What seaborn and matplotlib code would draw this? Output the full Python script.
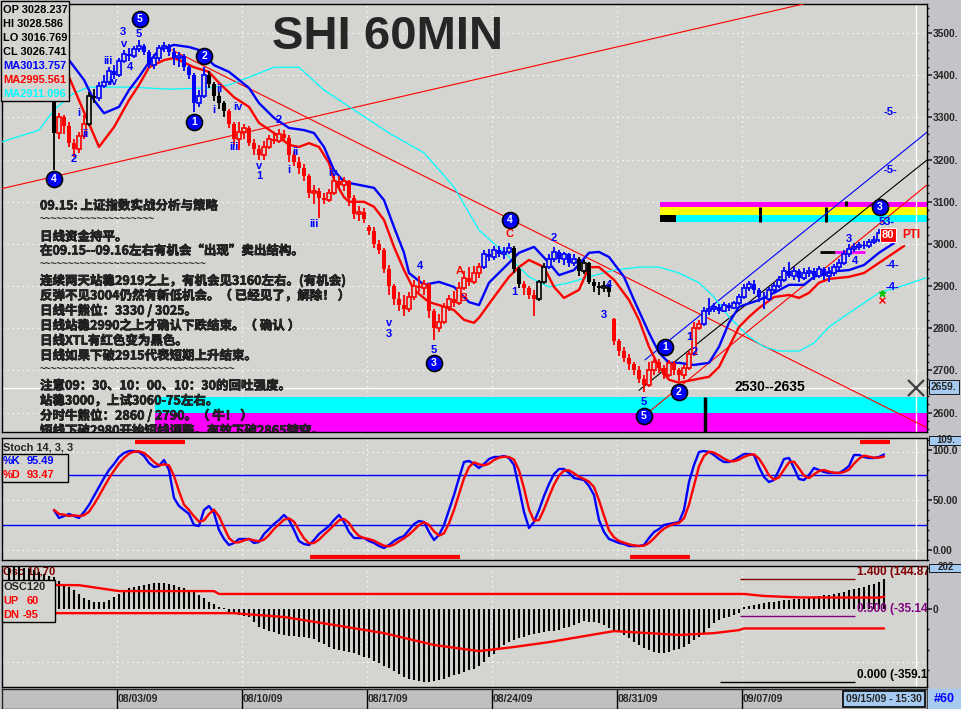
"""
SHI 60MIN chart: candles, MA envelope, wave marks, Stoch and OSC panels.
"""

import matplotlib
matplotlib.use('Agg')
import matplotlib.pyplot as plt
import matplotlib.patheffects as pe
from matplotlib.patches import Rectangle
import numpy as np
import pandas as pd
import seaborn as sns

W, H = 961, 709
BG = '#d4d4d0'
STRIP = '#c4c4c8'
LBLUE = '#a6caf0'
BLUE, RED, CYAN, MAGENTA, YELLOW = '#0000ff', '#ff0000', '#00ffff', '#ff00ff', '#ffff00'
DARKRED, PURPLE = '#800000', '#800080'
LAT = ['Liberation Sans', 'DejaVu Sans']
CJK = ['Noto Sans CJK SC', 'DejaVu Sans']

# ---- 60 min bars (one per hour, oldest first) ----
opens = [3340, 3262, 3300, 3280, 3240, 3225, 3255, 3285, 3350, 3345,
         3375, 3385, 3410, 3400, 3435, 3450, 3445, 3462, 3470, 3455,
         3425, 3440, 3465, 3470, 3455, 3440, 3445, 3420, 3400, 3335,
         3350, 3400, 3380, 3350, 3335, 3315, 3285, 3250, 3265, 3275,
         3240, 3225, 3210, 3230, 3250, 3245, 3260, 3252, 3210, 3195,
         3180, 3160, 3120, 3125, 3110, 3105, 3120, 3150, 3140, 3150,
         3110, 3070, 3075, 3040, 3030, 3000, 2985, 2940, 2900, 2870,
         2855, 2845, 2875, 2900, 2895, 2905, 2840, 2800, 2815, 2850,
         2870, 2860, 2895, 2920, 2910, 2930, 2945, 2975, 2968, 2985,
         2975, 2982, 2990, 2940, 2905, 2895, 2880, 2870, 2910, 2945,
         2965, 2980, 2965, 2975, 2955, 2965, 2935, 2955, 2910, 2900,
         2895, 2900, 2822, 2770, 2745, 2730, 2715, 2700, 2680, 2665,
         2700, 2720, 2705, 2690, 2718, 2700, 2690, 2705, 2740, 2800,
         2810, 2840, 2845, 2850, 2842, 2855, 2848, 2860, 2875, 2895,
         2905, 2890, 2875, 2870, 2890, 2900, 2915, 2935, 2925, 2935,
         2920, 2930, 2935, 2925, 2940, 2925, 2932, 2945, 2955, 2975,
         2988, 2992, 2998, 2995, 3005, 3010, 3028.237]
highs = [3342, 3310, 3305, 3290, 3250, 3265, 3305, 3360, 3368, 3385,
         3400, 3420, 3425, 3442, 3460, 3465, 3470, 3484, 3475, 3460,
         3450, 3472, 3478, 3474, 3465, 3455, 3450, 3425, 3405, 3365,
         3420, 3410, 3385, 3360, 3340, 3320, 3290, 3290, 3285, 3280,
         3250, 3235, 3245, 3258, 3265, 3272, 3270, 3258, 3220, 3205,
         3190, 3165, 3140, 3132, 3120, 3130, 3160, 3162, 3158, 3152,
         3115, 3090, 3085, 3045, 3040, 3010, 2990, 2950, 2905, 2885,
         2880, 2885, 2915, 2925, 2915, 2908, 2845, 2835, 2860, 2880,
         2888, 2910, 2935, 2945, 2948, 2955, 2985, 2988, 2995, 2995,
         2992, 3002, 2995, 2945, 2912, 2900, 2890, 2915, 2955, 2975,
         2992, 2985, 2982, 2978, 2975, 2968, 2962, 2958, 2918, 2910,
         2912, 2905, 2825, 2775, 2755, 2740, 2720, 2710, 2690, 2720,
         2728, 2728, 2712, 2725, 2722, 2705, 2712, 2745, 2815, 2820,
         2850, 2872, 2860, 2858, 2862, 2860, 2865, 2882, 2905, 2912,
         2915, 2895, 2885, 2898, 2908, 2925, 2945, 2958, 2945, 2940,
         2942, 2945, 2942, 2948, 2945, 2945, 2952, 2965, 2985, 3000,
         3002, 3005, 3008, 3012, 3018, 3035, 3028.586]
lows = [3175, 3250, 3260, 3230, 3205, 3215, 3250, 3280, 3335, 3340,
        3370, 3378, 3390, 3395, 3428, 3435, 3440, 3455, 3448, 3418,
        3415, 3435, 3455, 3445, 3425, 3420, 3410, 3390, 3312, 3325,
        3345, 3370, 3340, 3320, 3300, 3275, 3235, 3222, 3250, 3232,
        3210, 3200, 3200, 3225, 3238, 3240, 3245, 3195, 3185, 3165,
        3150, 3110, 3095, 3062, 3095, 3100, 3115, 3130, 3125, 3090,
        3060, 3055, 3050, 3020, 2990, 2975, 2930, 2880, 2855, 2840,
        2828, 2838, 2868, 2885, 2880, 2825, 2772, 2790, 2810, 2840,
        2850, 2855, 2890, 2900, 2905, 2920, 2940, 2960, 2962, 2968,
        2965, 2975, 2930, 2895, 2880, 2870, 2828, 2865, 2905, 2940,
        2958, 2955, 2950, 2945, 2948, 2925, 2928, 2905, 2885, 2880,
        2885, 2875, 2760, 2735, 2720, 2700, 2690, 2670, 2648, 2660,
        2690, 2695, 2680, 2685, 2690, 2675, 2680, 2700, 2735, 2795,
        2805, 2832, 2838, 2835, 2838, 2840, 2845, 2855, 2870, 2888,
        2882, 2862, 2845, 2865, 2885, 2895, 2910, 2920, 2915, 2910,
        2915, 2922, 2915, 2920, 2915, 2910, 2925, 2935, 2950, 2970,
        2980, 2985, 2988, 2990, 3000, 3005, 3016.769]
closes = [3262, 3300, 3280, 3240, 3225, 3255, 3285, 3350, 3345, 3375,
          3385, 3410, 3400, 3435, 3450, 3445, 3462, 3470, 3455, 3425,
          3440, 3465, 3470, 3455, 3440, 3445, 3420, 3400, 3335, 3350,
          3400, 3380, 3350, 3335, 3315, 3285, 3250, 3265, 3275, 3240,
          3225, 3210, 3230, 3250, 3245, 3260, 3252, 3210, 3195, 3180,
          3160, 3120, 3125, 3110, 3105, 3120, 3150, 3140, 3150, 3110,
          3070, 3075, 3060, 3030, 3000, 2985, 2940, 2900, 2870, 2855,
          2845, 2875, 2900, 2895, 2905, 2840, 2800, 2815, 2850, 2870,
          2860, 2895, 2920, 2910, 2930, 2945, 2975, 2968, 2985, 2975,
          2982, 2990, 2940, 2905, 2895, 2880, 2870, 2910, 2945, 2965,
          2980, 2965, 2975, 2955, 2965, 2935, 2955, 2910, 2900, 2895,
          2900, 2885, 2770, 2745, 2730, 2715, 2700, 2680, 2665, 2700,
          2720, 2705, 2690, 2718, 2700, 2690, 2705, 2740, 2800, 2810,
          2840, 2845, 2850, 2842, 2855, 2848, 2860, 2875, 2895, 2905,
          2890, 2875, 2870, 2890, 2900, 2915, 2935, 2925, 2935, 2920,
          2930, 2935, 2925, 2940, 2925, 2932, 2945, 2955, 2975, 2988,
          2992, 2998, 2995, 3005, 3010, 3025, 3026.741]
# bar colouring (trend state), as runs of (code, number of bars)
trend_runs = [('k', 1), ('r', 6), ('k', 2), ('b', 22), ('k', 4), ('r', 51), ('b', 6),
              ('k', 2), ('r', 3), ('k', 2), ('b', 6), ('k', 7), ('r', 18), ('b', 37)]

# ---- moving averages (bar, value) ----
ma_blue_bar = [3, 6, 8, 10, 13, 15, 17, 19, 21, 24, 27, 29, 32, 35, 37, 39, 41, 44, 47, 50,
               52, 54, 56, 58, 61, 64, 66, 68, 70, 71, 74, 77, 80, 83, 85, 87, 91, 93, 96, 99,
               101, 104, 107, 109, 111, 114, 116, 119, 121, 123, 125, 128, 131, 133, 135, 137,
               141, 144, 147, 150, 152, 155, 159, 162, 165, 168]
ma_blue = [3436, 3389, 3341, 3310, 3325, 3365, 3396, 3431, 3460, 3472, 3467, 3460, 3424, 3408,
           3389, 3370, 3334, 3299, 3275, 3270, 3263, 3230, 3175, 3147, 3140, 3133, 3104, 3040,
           2979, 2931, 2903, 2910, 2898, 2862, 2855, 2908, 2955, 2979, 2993, 2955, 2926, 2938,
           2979, 2981, 2969, 2922, 2867, 2789, 2742, 2718, 2718, 2713, 2718, 2756, 2813, 2851,
           2867, 2884, 2903, 2903, 2922, 2934, 2938, 2950, 2979, 3002]
ma_red_bar = [3, 9, 12, 15, 17, 19, 22, 24, 25, 28, 31, 33, 36, 39, 41, 44, 47, 49, 51, 53,
              55, 56, 58, 59, 62, 64, 66, 68, 70, 72, 75, 77, 80, 82, 84, 85, 88, 91, 93, 95,
              98, 100, 102, 105, 107, 109, 112, 115, 117, 119, 121, 123, 125, 128, 131, 133,
              135, 137, 139, 141, 144, 147, 149, 151, 153, 155, 159, 162, 165, 170]
ma_red = [3396, 3230, 3277, 3341, 3377, 3419, 3436, 3441, 3436, 3419, 3408, 3382, 3348, 3325,
          3287, 3263, 3235, 3230, 3239, 3230, 3192, 3152, 3111, 3100, 3100, 3088, 3057, 2993,
          2938, 2891, 2862, 2855, 2843, 2820, 2813, 2825, 2874, 2922, 2945, 2962, 2945, 2898,
          2872, 2891, 2945, 2945, 2915, 2867, 2820, 2756, 2708, 2678, 2671, 2678, 2685, 2708,
          2756, 2803, 2827, 2848, 2874, 2879, 2872, 2884, 2908, 2917, 2922, 2931, 2955, 2995]
ma_cyan_bar = [-11, -3, 0, 4, 7, 15, 23, 31, 35, 40, 44, 49, 54, 61, 67, 74, 80, 85, 91, 95,
               99, 103, 107, 112, 117, 121, 125, 129, 132, 135, 139, 142, 145, 149, 152, 155,
               159, 162, 165, 169, 175]
ma_cyan = [3240, 3270, 3318, 3358, 3372, 3372, 3367, 3370, 3377, 3400, 3419, 3419, 3365, 3310,
           3263, 3216, 3135, 3033, 2969, 2922, 2898, 2908, 2922, 2938, 2945, 2945, 2931, 2908,
           2874, 2827, 2780, 2756, 2746, 2746, 2765, 2803, 2836, 2860, 2884, 2898, 2922]

# ---- Stoch %K per bar ----
stoch_k = [40, 32, 34, 36, 34, 32, 38, 45, 54, 63,
           72, 80, 86, 93, 97, 99, 99, 98, 94, 87,
           83, 84, 90, 80, 52, 44, 40, 36, 25, 24,
           40, 44, 37, 20, 11, 5, 7, 11, 11, 11,
           7, 8, 16, 21, 26, 30, 35, 30, 20, 9,
           6, 5, 10, 16, 20, 24, 30, 35, 28, 18,
           12, 12, 12, 9, 7, 4, 2, 5, 9, 12,
           14, 20, 26, 29, 28, 18, 10, 15, 25, 40,
           55, 72, 88, 89, 86, 82, 86, 91, 93, 93,
           94, 92, 85, 62, 38, 22, 28, 40, 54, 66,
           76, 81, 81, 77, 72, 71, 70, 64, 55, 30,
           18, 11, 9, 7, 6, 4, 4, 4, 5, 12,
           18, 21, 25, 26, 27, 28, 40, 68, 85, 98,
           99, 98, 95, 91, 88, 88, 90, 93, 96, 96,
           95, 83, 73, 68, 70, 80, 91, 92, 82, 71,
           70, 75, 82, 80, 78, 77, 77, 77, 80, 84,
           95, 95, 93, 92, 92, 93, 95.49]

# ---- OSC 10,70 histogram (starts 9 bars before the first candle) ----
OSC_FIRST_BAR = -9
osc_vals = [200, 205, 205, 200, 195, 190, 182, 172, 163, 155,
            137, 118, 108, 93, 74, 54, 44, 34, 34, 34,
            44, 59, 74, 88, 103, 108, 113, 118, 123, 127,
            127, 127, 125, 118, 108, 103, 93, 83, 69, 54,
            34, 25, 10, 5, -15, -25, -29, -34, -39, -64,
            -88, -98, -108, -113, -122, -127, -130, -132, -137, -137,
            -140, -147, -162, -173, -186, -194, -201, -206, -209, -217,
            -225, -233, -242, -255, -266, -278, -289, -305, -318, -333,
            -341, -349, -354, -357, -359.17, -354, -349, -341, -333, -325,
            -317, -309, -300, -292, -280, -260, -235, -218, -191, -176,
            -162, -154, -142, -137, -127, -122, -118, -113, -110, -106,
            -103, -95, -88, -77, -66, -59, -62, -62, -69, -78,
            -91, -103, -113, -127, -142, -162, -176, -189, -201, -211,
            -217, -217, -211, -201, -194, -186, -172, -154, -137, -118,
            -94, -69, -54, -44, -37, -29, -20, 12, 17, 21,
            25, 29, 33, 36, 39, 43, 46, 47, 48, 51,
            55, 59, 63, 67, 71, 75, 80, 85, 91, 97,
            103, 110, 117, 124, 132, 144.872]
osc_up_bar = [0, 5, 13, 32, 33, 138, 142, 149, 165, 166]
osc_up = [118, 117, 88, 88, 74, 74, 64, 57, 56, 60]
osc_dn_bar = [0, 36, 46, 56, 66, 76, 85, 92, 99, 105, 112, 119, 125, 132, 137, 138, 166]
osc_dn = [-20, -20, -39, -78, -118, -176, -206, -186, -162, -137, -108, -118, -127, -118,
          -103, -95, -95]
osc_levels = [144.872, -35.143, -359.17]
osc_level_names = ['1.400 (144.872', '0.500 (-35.143', '0.000 (-359.17']

date_labels = ['08/03/09', '08/10/09', '08/17/09', '08/24/09', '08/31/09', '09/07/09']

# ---- annotations: (text, bar, price) ----
wave_circles = [('4', 0, 3154), ('5', 17.2, 3533), ('2', 30, 3445), ('1', 28, 3289),
                ('3', 76, 2718), ('4', 91.2, 3057), ('1', 122.2, 2756), ('2', 125, 2649),
                ('5', 118, 2592), ('3', 165.2, 3088)]
wave_labels = [('2', 4, 3201), ('i', 5, 3310), ('ii', 6.2, 3261), ('iii', 10.8, 3434),
               ('iv', 11.8, 3384), ('3', 13.8, 3502), ('v', 14, 3474), ('5', 17, 3498),
               ('4', 15.2, 3419), ('ii', 33, 3367), ('i', 32, 3318), ('iii', 36, 3230),
               ('iv', 36.8, 3325), ('v', 41, 3185), ('1', 41, 3161), ('2', 45, 3294),
               ('ii', 48.2, 3218), ('i', 47, 3175), ('iv', 55.8, 3168), ('iii', 52, 3047),
               ('v', 67, 2813), ('3', 67, 2787), ('4', 73.2, 2948), ('5', 76, 2749),
               ('1', 92, 2886), ('2', 100, 3014), ('4', 111, 2903), ('3', 110, 2832),
               ('5', 118, 2625), ('1', 127, 2780), ('2', 128.2, 2744), ('3', 159, 3012),
               ('4', 160.2, 2960), ('53-', 166.6, 3052), ('-5-', 167.4, 3313),
               ('-5-', 167.4, 3175), ('-4-', 167.8, 2950), ('-4-', 167.8, 2898)]
abc_labels = [('A', 81.2, 2936), ('B', 81.8, 2872), ('C', 91, 3024)]

notes = ['09.15: 上证指数实战分析与策略',
         '~' * 20,
         '日线资金持平。',
         '在09.15--09.16左右有机会“出现”卖出结构。',
         '~' * 29,
         '连续两天站稳2919之上，有机会见3160左右。(有机会)',
         '反弹不见3004仍然有新低机会。（ 已经见了，解除！ ）',
         '日线牛熊位：3330 / 3025。',
         '日线站稳2990之上才确认下跌结束。（ 确认 ）',
         '日线XTL有红色变为黑色。',
         '日线如果下破2915代表短期上升结束。',
         '~' * 34,
         '注意09：30、10：00、10：30的回吐强度。',
         '站稳3000，上试3060-75左右。',
         '分时牛熊位：2860 / 2790。（ 牛！ ）',
         '短线下破2980开始短线调整。有效下破2865转空。']

TREND_COLORS = {'b': BLUE, 'r': RED, 'k': 'black'}
XLIM = (-10.4, 174.6)
WEEK_TICKS = [12.5 + 25 * k for k in range(len(date_labels))]
DOTS = (0, (1, 3))
BOLDEN = [pe.withStroke(linewidth=0.45, foreground='black')]

sns.set_style('white')
plt.rcParams['font.family'] = LAT
plt.rcParams['axes.linewidth'] = 1.0

fig = plt.figure(figsize=(W / 100, H / 100), dpi=100, facecolor=STRIP)


def fx(x):
    return x / W


def fy(y):
    return 1 - y / H


def panel(y0, y1, share=None):
    a = fig.add_axes([fx(2), fy(y1), (927 - 2) / W, (y1 - y0) / H], sharex=share)
    a.set_facecolor(BG)
    for s in a.spines.values():
        s.set_color('black')
    a.tick_params(axis='x', bottom=False, labelbottom=False)
    a.yaxis.tick_right()
    a.tick_params(axis='y', which='major', direction='out', length=3.5, width=1.2, pad=0.5,
                  labelsize=7.4, left=False, right=True)
    a.tick_params(axis='y', which='minor', direction='out', length=1.5, width=1, left=False)
    return a


def box(x0, y0, x1, y1, fc=BG, ec='black', lw=1, z=3):
    fig.add_artist(Rectangle((fx(x0), fy(y1)), (x1 - x0) / W, (y1 - y0) / H,
                             transform=fig.transFigure, facecolor=fc, edgecolor=ec,
                             lw=lw, zorder=z))


def ftext(x, y, s, **kw):
    kw.setdefault('fontweight', 'bold')
    kw.setdefault('va', 'center')
    fig.text(fx(x), fy(y), s, zorder=5, **kw)


# ================= main price panel =================
ax = panel(4, 432)
ax.set_xlim(*XLIM)
ax.set_ylim(2554, 3569)
ax.set_yticks(range(2600, 3501, 100))
ax.set_yticklabels([f'{v}.' for v in range(2600, 3501, 100)], fontweight='bold')
ax.set_yticks(range(2560, 3561, 20), minor=True)

for v in range(2600, 3501, 100):
    ax.axhline(v, color='white', lw=0.9, ls=DOTS, zorder=0.5)
for t in WEEK_TICKS:
    ax.axvline(t, color='white', lw=0.9, ls=DOTS, zorder=0.5)

# support / resistance zones
ax.add_patch(Rectangle((20.2, 2600), 160, 37, color=CYAN, lw=0, zorder=1))
ax.add_patch(Rectangle((20.2, 2500), 160, 100, color=MAGENTA, lw=0, zorder=1))
ax.add_patch(Rectangle((121.2, 3088), 60, 12, color=MAGENTA, lw=0, zorder=1))
ax.add_patch(Rectangle((121.2, 3069), 60, 19, color=YELLOW, lw=0, zorder=1))
ax.add_patch(Rectangle((121.2, 3052), 60, 17, color=CYAN, lw=0, zorder=1))
ax.add_patch(Rectangle((121.2, 3052), 3.2, 17, color='black', lw=0, zorder=1.5))
ax.vlines([141.2, 154.4], 3052, 3088, color='black', lw=2.2, zorder=1.5)
ax.vlines(158.4, 3090, 3102, color='black', lw=2.2, zorder=1.5)
ax.vlines(130.2, 2540, 2637, color='black', lw=2.5, zorder=1.5)
ax.hlines(2981, 153.2, 156.2, color='black', lw=2, zorder=2)
ax.hlines(2981, 156.2, 162.2, color=MAGENTA, lw=2, zorder=2)

# trend lines
ax.axline((-2.8, 3152), (150.6, 3571), color=RED, lw=0.8, zorder=3)
ax.plot([23.6, 174.6], [3460, 2564], color=RED, lw=0.8, zorder=3)
ax.plot([118.2, 174.6], [2725, 3265], color=BLUE, lw=0.8, zorder=3)
ax.plot([117, 174.6], [2653, 3199], color='black', lw=0.8, zorder=3)
ax.plot([118, 174.6], [2592, 3140], color=RED, lw=0.8, zorder=3)

# crosshair
ax.axhline(2659, color='white', lw=1, zorder=2)
ax.plot(172.4, 2659, marker='x', ms=12, mew=1.6, color='#404040', zorder=9)

# moving averages
for bars, vals, col, lw in [(ma_cyan_bar, ma_cyan, CYAN, 0.9),
                            (ma_red_bar, ma_red, RED, 1.7),
                            (ma_blue_bar, ma_blue, BLUE, 1.7)]:
    sns.lineplot(data=pd.DataFrame({'bar': bars, 'val': vals}), x='bar', y='val',
                 color=col, lw=lw, estimator=None, ax=ax, zorder=4)

# candles
bars_df = pd.DataFrame({'open': opens, 'high': highs, 'low': lows, 'close': closes})
bars_df['bar'] = np.arange(len(bars_df))
bars_df['trend'] = np.repeat([c for c, _ in trend_runs], [n for _, n in trend_runs])
bars_df['col'] = bars_df['trend'].map(TREND_COLORS)
ax.vlines(bars_df['bar'], bars_df['low'], bars_df['high'], colors=bars_df['col'].tolist(),
          lw=1.3, zorder=5)
body_bottom = bars_df[['open', 'close']].min(axis=1)
body_h = (bars_df['close'] - bars_df['open']).abs().clip(lower=3)
up = bars_df['close'] >= bars_df['open']
ax.bar(bars_df.loc[up, 'bar'], body_h[up], bottom=body_bottom[up], width=0.8,
       facecolor=BG, edgecolor=bars_df.loc[up, 'col'].tolist(), lw=1.2, zorder=6)
ax.bar(bars_df.loc[~up, 'bar'], body_h[~up], bottom=body_bottom[~up], width=0.8,
       color=bars_df.loc[~up, 'col'].tolist(), lw=0, zorder=6)

# wave marks
for s, bx, py in wave_circles:
    ax.plot(bx, py, 'o', ms=11.5, mfc=BLUE, mec='black', mew=1.2, zorder=8)
    ax.text(bx, py, s, color='white', fontsize=7.5, fontweight='bold', ha='center',
            va='center', zorder=9)
for s, bx, py in wave_labels:
    ax.text(bx, py, s, color=BLUE, fontsize=8, fontweight='bold', ha='center',
            va='center', zorder=8, clip_on=True)
for s, bx, py in abc_labels:
    ax.text(bx, py, s, color=RED, fontsize=8, fontweight='bold', ha='center',
            va='center', zorder=8)
ax.text(166.8, 3021, '80', color='white', fontsize=8, fontweight='bold', ha='center',
        va='center', zorder=9, bbox=dict(boxstyle='square,pad=0.15', fc=RED, ec='white', lw=0.8))
ax.text(169.6, 3021, 'PTI', color=RED, fontsize=8.5, fontweight='bold', ha='left',
        va='center', zorder=9, clip_on=True)
ax.plot(165.6, 2884, marker='*', ms=5, color='#00c000', zorder=8)
ax.plot(165.6, 2866, marker='x', ms=4, mew=1, color=RED, zorder=8)
ax.text(143.2, 2661, '2530--2635', color='black', fontsize=10, fontweight='bold',
        ha='center', va='center', zorder=9)

# analysis notes
note_rows = [206, 220, 237, 251, 265, 281, 296, 311, 326, 341, 356, 370, 386, 401, 416, 431]
for row, line in zip(note_rows, notes):
    if line.startswith('~'):
        ax.text(fx(40), fy(row), line, transform=fig.transFigure, fontsize=7,
                family=LAT, fontweight='bold', va='center', zorder=10, clip_on=True)
    else:
        ax.text(fx(40), fy(row), line, transform=fig.transFigure, fontsize=9,
                family=CJK, fontweight='bold', va='center', zorder=10, clip_on=True,
                path_effects=BOLDEN)

ax.set_xlabel('')
ax.set_ylabel('')

# ================= stochastic panel =================
ax_st = panel(438, 560, share=ax)
ax_st.set_ylim(-10, 112)
ax_st.set_yticks([0, 50, 100])
ax_st.set_yticklabels(['0.00', '50.00', '100.0'], fontweight='bold')
ax_st.set_yticks(range(-10, 111, 10), minor=True)
for v in [0, 50, 98]:
    ax_st.axhline(v, color='white', lw=0.9, ls=DOTS, zorder=0.5)
for t in WEEK_TICKS:
    ax_st.axvline(t, color='white', lw=0.9, ls=DOTS, zorder=0.5)
ax_st.axhline(75, color=BLUE, lw=1, zorder=1)
ax_st.axhline(25, color=BLUE, lw=1, zorder=1)

st = pd.DataFrame({'bar': np.arange(len(stoch_k)), 'K': stoch_k})
st['D'] = st['K'].rolling(3, min_periods=1).mean()
sns.lineplot(data=st, x='bar', y='K', color=BLUE, lw=1.7, estimator=None, ax=ax_st, zorder=3)
sns.lineplot(data=st, x='bar', y='D', color=RED, lw=1.7, estimator=None, ax=ax_st, zorder=4)
ax_st.hlines([108, -7, -7, 108], [16.2, 51.2, 115.2, 161.2], [26.2, 81.2, 127.2, 167.2],
             color=RED, lw=3, zorder=5)
ax_st.set_xlabel('')
ax_st.set_ylabel('')

# ================= oscillator panel =================
ax_os = panel(566, 687, share=ax)
ax_os.set_ylim(-382, 211)
ax_os.set_yticks([0])
ax_os.set_yticklabels(['0'], fontweight='bold')
ax_os.set_yticks([-300, -200, -100, 100, 200], minor=True)
ax_os.axhline(-260, color='white', lw=0.9, ls=DOTS, zorder=0.5)
for t in WEEK_TICKS:
    ax_os.axvline(t, color='white', lw=0.9, ls=DOTS, zorder=0.5)

osc_bar = np.arange(OSC_FIRST_BAR, OSC_FIRST_BAR + len(osc_vals))
ax_os.vlines(osc_bar, 0, osc_vals, color='black', lw=1.5, zorder=2)
sns.lineplot(data=pd.DataFrame({'bar': osc_up_bar, 'val': osc_up}), x='bar', y='val',
             color=RED, lw=1.7, estimator=None, ax=ax_os, zorder=3)
sns.lineplot(data=pd.DataFrame({'bar': osc_dn_bar, 'val': osc_dn}), x='bar', y='val',
             color=RED, lw=1.7, estimator=None, ax=ax_os, zorder=3)
for lvl, name, col, x0 in zip(osc_levels, osc_level_names, [DARKRED, PURPLE, 'black'],
                              [137.2, 137.2, 133.2]):
    ax_os.hlines(lvl, x0, 160.2, color=col, lw=1, zorder=3)
    ax_os.text(160.6, lvl + 8, name, color=col, fontsize=8.5, fontweight='bold',
               ha='left', va='bottom', zorder=6, clip_on=True)
ax_os.text(fx(3), fy(571), 'Osc 10,70', transform=fig.transFigure, color=DARKRED,
           fontsize=8, fontweight='bold', va='center', zorder=1)
ax_os.set_xlabel('')
ax_os.set_ylabel('')

# crosshair vertical through all panels
for a_ in [ax, ax_st, ax_os]:
    a_.axvline(172.4, color='white', lw=1, zorder=2)

# ================= date strip =================
ax_dt = fig.add_axes([fx(2), 0, (927 - 2) / W, 20 / H], sharex=ax)
ax_dt.set_facecolor('#c0c0c0')
ax_dt.set_ylim(0, 1)
ax_dt.set_xticks([])
ax_dt.set_yticks([])
for t, lab in zip(WEEK_TICKS, date_labels):
    ax_dt.axvline(t, color='black', lw=1)
    ax_dt.text(t + 0.3, 0.48, lab, fontsize=7.5, fontweight='bold', ha='left', va='center')
ax_dt.set_xlim(*XLIM)

box(928, 689, 961, 709, fc=LBLUE, ec=LBLUE)
ftext(944, 699, '#60', color=BLUE, fontsize=9, ha='center')
ftext(884, 699, '09/15/09 - 15:30', fontsize=7.5, ha='center',
      bbox=dict(boxstyle='square,pad=0.25', fc=LBLUE, ec='black', lw=1.2))

# ================= legend boxes =================
box(1, 1, 69, 101)
legend_rows = [('OP 3028.237', 'black'), ('HI 3028.586', 'black'), ('LO 3016.769', 'black'),
               ('CL 3026.741', 'black'), ('MA3013.757', BLUE), ('MA2995.561', RED),
               ('MA2911.096', CYAN)]
for k, (s, col) in enumerate(legend_rows):
    ftext(3, 10 + 14 * k, s, color=col, fontsize=7.9)

ftext(3, 447, 'Stoch 14, 3, 3', fontsize=7.9)
box(2, 454, 68, 482)
ftext(3, 461, '%K', color=BLUE, fontsize=7.9)
ftext(27, 461, '95.49', color=BLUE, fontsize=7.9)
ftext(3, 475, '%D', color=RED, fontsize=7.9)
ftext(27, 475, '93.47', color=RED, fontsize=7.9)

box(2, 580, 55, 622)
ftext(3, 587, 'OSC120', fontsize=7.9)
ftext(3, 601, 'UP', color=RED, fontsize=7.9)
ftext(27, 601, '60', color=RED, fontsize=7.9)
ftext(3, 615, 'DN', color=RED, fontsize=7.9)
ftext(23, 615, '-95', color=RED, fontsize=7.9)

# right strip value boxes
ftext(931, 387, '2659.', fontsize=7.4, ha='left',
      bbox=dict(boxstyle='square,pad=0.2', fc=LBLUE, ec='black', lw=0.6))
box(929, 436, 961, 445, fc=LBLUE, ec='black', lw=0.6)
ftext(936, 440, '109.', fontsize=7, ha='left')
box(929, 564, 961, 572, fc=LBLUE, ec='black', lw=0.6)
ftext(938, 567, '202', fontsize=7, ha='left')

# title
ftext(388, 37, 'SHI 60MIN', fontsize=34, ha='center', family=LAT)

fig.savefig('out.png', dpi=100, facecolor=fig.get_facecolor())
